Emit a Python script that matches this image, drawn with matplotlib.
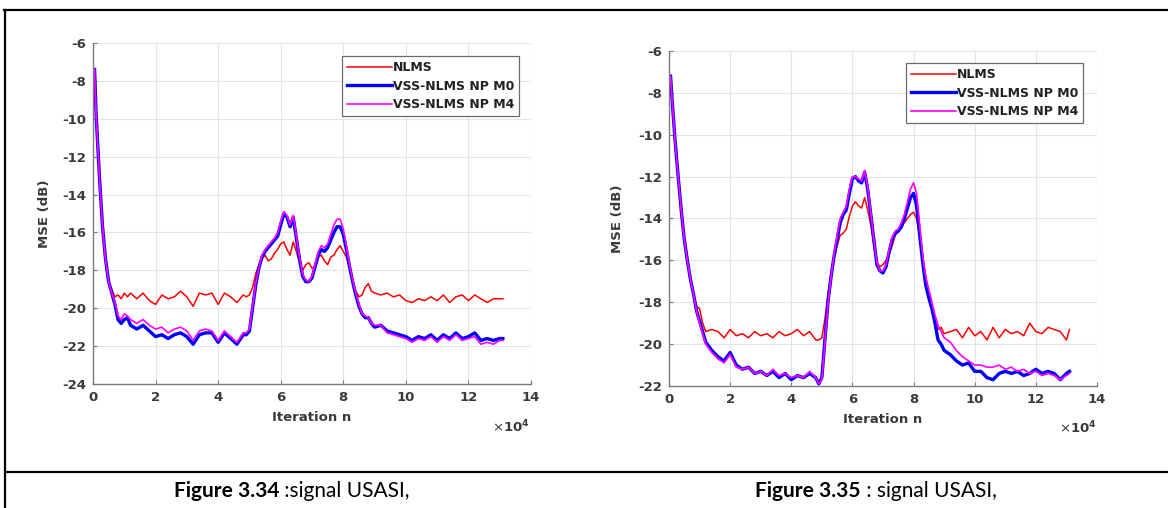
import matplotlib
matplotlib.use('Agg')
import matplotlib.pyplot as plt
import numpy as np
from matplotlib.lines import Line2D

plt.rcParams['axes.unicode_minus'] = False

# iteration axis (x 1e4), shared by the three curves of each panel
n_iter = np.concatenate([
    [0.05], np.arange(0.1, 1.25, 0.1), np.arange(1.4, 4.85, 0.2),
    np.arange(4.9, 9.05, 0.1), np.arange(9.2, 13.05, 0.2), [13.1],
])

# ---- Figure 3.34 ----
nlms_34 = [
    -7.4, -9.4, -12.5, -15.5, -17.4, -18.6, -19.0, -19.4, -19.3, -19.5, -19.2, -19.4, -19.2,
    -19.5, -19.2, -19.6, -19.8, -19.3, -19.5, -19.4, -19.1, -19.4, -19.9, -19.2, -19.3, -19.2,
    -19.8, -19.2, -19.4, -19.7, -19.3,
    -19.4, -19.3, -18.9, -18.2, -17.7, -17.4, -17.2, -17.5, -17.4, -17.1, -16.9, -16.6, -16.5,
    -16.9, -17.2, -16.5, -17.0, -17.6, -18.0, -17.7, -17.6, -17.9, -17.8, -17.3, -17.2, -17.5,
    -17.7, -17.3, -17.2, -16.9, -16.7, -17.0, -17.3, -17.9, -18.6, -19.1, -19.4, -19.3, -18.9,
    -18.7, -19.1, -19.2,
    -19.3, -19.2, -19.4, -19.3, -19.6, -19.7, -19.5, -19.6, -19.4, -19.6, -19.3, -19.7, -19.4,
    -19.3, -19.6, -19.3, -19.5, -19.7, -19.5, -19.5, -19.5,
]
m0_34 = [
    -7.4, -9.8, -12.9, -15.6, -17.4, -18.6, -19.2, -19.8, -20.6, -20.8, -20.6, -20.5, -20.9,
    -21.1, -20.9, -21.2, -21.5, -21.4, -21.6, -21.4, -21.3, -21.5, -21.9, -21.4, -21.3, -21.3,
    -21.8, -21.3, -21.6, -21.9, -21.4,
    -21.4, -21.2, -20.0, -18.8, -17.9, -17.3, -17.0, -16.8, -16.6, -16.4, -16.2, -15.6, -15.0,
    -15.2, -15.7, -15.2, -16.3, -17.4, -18.3, -18.6, -18.6, -18.4, -17.8, -17.2, -16.9, -17.0,
    -16.8, -16.4, -16.0, -15.7, -15.7, -16.1, -16.9, -17.8, -18.6, -19.3, -19.9, -20.3, -20.5,
    -20.5, -20.8, -21.0,
    -20.9, -21.2, -21.3, -21.4, -21.5, -21.7, -21.5, -21.6, -21.4, -21.7, -21.4, -21.6, -21.3,
    -21.6, -21.5, -21.3, -21.7, -21.6, -21.7, -21.6, -21.6,
]
m4_34 = [
    -7.4, -9.8, -12.9, -15.6, -17.4, -18.6, -19.2, -19.7, -20.4, -20.6, -20.3, -20.4, -20.6,
    -20.8, -20.6, -20.9, -21.1, -21.0, -21.3, -21.1, -21.0, -21.2, -21.7, -21.2, -21.1, -21.2,
    -21.7, -21.2, -21.5, -21.8, -21.3,
    -21.3, -21.1, -19.9, -18.7, -17.9, -17.2, -16.9, -16.7, -16.5, -16.3, -16.0, -15.4, -14.9,
    -15.1, -15.6, -15.1, -16.2, -17.3, -18.2, -18.5, -18.6, -18.3, -17.7, -17.0, -16.7, -16.8,
    -16.6, -16.1, -15.6, -15.3, -15.3, -15.8, -16.7, -17.7, -18.5, -19.2, -19.8, -20.3, -20.4,
    -20.5, -20.8, -20.9,
    -20.9, -21.3, -21.4, -21.5, -21.6, -21.8, -21.6, -21.7, -21.5, -21.8, -21.5, -21.7, -21.4,
    -21.7, -21.6, -21.5, -21.9, -21.8, -21.9, -21.7, -21.7,
]

# ---- Figure 3.35 ----
nlms_35 = [
    -7.2, -8.3, -10.3, -12.0, -13.6, -15.0, -16.0, -16.9, -17.6, -18.2, -18.3, -19.0, -19.4,
    -19.3, -19.4, -19.7, -19.3, -19.6, -19.5, -19.7, -19.4, -19.6, -19.5, -19.7, -19.4, -19.6,
    -19.5, -19.3, -19.6, -19.4, -19.8,
    -19.8, -19.7, -18.8, -17.6, -16.6, -15.9, -15.3, -14.8, -14.7, -14.5, -13.9, -13.4, -13.2,
    -13.4, -13.5, -13.0, -13.6, -14.3, -15.3, -16.1, -16.3, -16.2, -16.0, -15.7, -15.3, -14.8,
    -14.6, -14.4, -14.2, -14.0, -13.8, -13.7, -14.0, -14.9, -15.9, -16.8, -17.6, -18.3, -18.9,
    -19.3, -19.2, -19.5,
    -19.4, -19.3, -19.7, -19.2, -19.6, -19.4, -19.8, -19.2, -19.7, -19.3, -19.5, -19.4, -19.6,
    -19.0, -19.4, -19.5, -19.2, -19.3, -19.4, -19.8, -19.3,
]
m0_35 = [
    -7.2, -8.3, -10.3, -12.0, -13.6, -15.0, -16.0, -16.9, -17.6, -18.4, -18.9, -19.4, -19.9,
    -20.3, -20.6, -20.8, -20.4, -21.0, -21.2, -21.1, -21.4, -21.3, -21.5, -21.3, -21.6, -21.4,
    -21.7, -21.5, -21.6, -21.4, -21.6,
    -21.9, -21.6, -19.8, -18.0, -16.8, -15.8, -15.0, -14.2, -13.8, -13.6, -12.8, -12.1, -12.0,
    -12.2, -12.3, -11.8, -12.6, -13.8, -15.0, -16.2, -16.5, -16.6, -16.3, -15.6, -15.0, -14.7,
    -14.6, -14.4, -14.0, -13.5, -13.0, -12.8, -13.4, -14.8, -16.1, -17.2, -17.8, -18.3, -19.0,
    -19.8, -20.0, -20.3,
    -20.5, -20.8, -21.0, -20.9, -21.3, -21.3, -21.6, -21.7, -21.4, -21.3, -21.4, -21.3, -21.5,
    -21.4, -21.2, -21.4, -21.3, -21.4, -21.7, -21.4, -21.3,
]
m4_35 = [
    -7.2, -8.3, -10.3, -12.0, -13.6, -15.0, -16.0, -16.9, -17.6, -18.4, -19.0, -19.5, -20.0,
    -20.4, -20.7, -20.9, -20.5, -21.1, -21.2, -21.1, -21.4, -21.3, -21.5, -21.2, -21.5, -21.4,
    -21.6, -21.5, -21.6, -21.3, -21.6,
    -21.9, -21.7, -19.9, -18.1, -16.8, -15.7, -14.8, -14.0, -13.7, -13.4, -12.6, -12.0, -12.0,
    -12.1, -12.2, -11.7, -12.5, -13.7, -15.0, -16.1, -16.5, -16.5, -16.2, -15.5, -14.9, -14.6,
    -14.5, -14.2, -13.8, -13.2, -12.6, -12.3, -12.8, -14.3, -15.8, -16.8, -17.4, -18.0, -18.6,
    -19.1, -19.4, -19.7,
    -19.9, -20.3, -20.6, -20.8, -21.0, -21.0, -21.1, -21.1, -21.0, -21.2, -21.1, -21.3, -21.2,
    -21.4, -21.3, -21.5, -21.4, -21.5, -21.7, -21.5, -21.4,
]

series_names = ['NLMS', 'VSS-NLMS NP M0', 'VSS-NLMS NP M4']
x_ticks = [0, 2, 4, 6, 8, 10, 12, 14]
caption_34 = ('Figure 3.34', ' :signal USASI,')
caption_35 = ('Figure 3.35', ' : signal USASI,')

GRAY = '#3a3a3a'
W, H = 1168, 508
fig = plt.figure(figsize=(W / 100, H / 100), dpi=100)


def px_rect(x0, y0, x1, y1):
    return [x0 / W, 1 - y1 / H, (x1 - x0) / W, (y1 - y0) / H]


def mse_panel(rect, ylim, curves, leg_anchor, ylab_x):
    ax = fig.add_axes(rect)
    ax.plot(n_iter, curves[0], color='#ff0000', lw=1.1, label=series_names[0])
    ax.plot(n_iter, curves[1], color='#0000ff', lw=2.4, label=series_names[1])
    ax.plot(n_iter, curves[2], color='#ff00ff', lw=1.2, label=series_names[2])
    ax.set_xlim(0, 14)
    ax.set_ylim(*ylim)
    ax.set_xticks(x_ticks)
    ax.set_yticks(np.arange(ylim[0], ylim[1] + 1, 2))
    ax.grid(True, color='#e4e4e4', lw=0.8)
    ax.set_axisbelow(True)
    for s in ('top', 'right'):
        ax.spines[s].set_visible(False)
    for s in ('left', 'bottom'):
        ax.spines[s].set_color('#7a7a7a')
        ax.spines[s].set_linewidth(1.0)
    ax.tick_params(direction='in', length=3, color='#7a7a7a', labelcolor=GRAY,
                   labelsize=9.5, pad=5)
    for lab in ax.get_xticklabels() + ax.get_yticklabels():
        lab.set_fontweight('bold')
    ax.set_xlabel('Iteration n', fontsize=9.5, fontweight='bold', color=GRAY, labelpad=5)
    ax.set_ylabel('MSE (dB)', fontsize=9.5, fontweight='bold', color=GRAY)
    ax.yaxis.set_label_coords(ylab_x, 0.5)
    ax.text(0.955, -0.125, r'$\times\mathbf{10^4}$', transform=ax.transAxes,
            ha='center', va='center', fontsize=9.5, color=GRAY)
    leg = ax.legend(loc='upper right', bbox_to_anchor=leg_anchor, fontsize=9,
                    handlelength=3.6, handletextpad=0.05, borderpad=0.4,
                    labelspacing=0.45, fancybox=False, framealpha=1, borderaxespad=0)
    leg.get_frame().set_edgecolor('#6a6a6a')
    leg.get_frame().set_linewidth(0.9)
    for t in leg.get_texts():
        t.set_fontweight('bold')
        t.set_color('#222222')
    return ax


mse_panel(px_rect(93, 43, 531, 384), (-24, -6), [nlms_34, m0_34, m4_34],
          (0.973, 0.962), -0.095)
mse_panel(px_rect(669, 51, 1097, 386), (-22, -6), [nlms_35, m0_35, m4_35],
          (0.967, 0.964), -0.105)

# table frame around the two panels
for xs, ys in [((4, W), (10, 10)), ((5, 5), (10, H)), ((5, W), (472, 472))]:
    fig.add_artist(Line2D([x / W for x in xs], [1 - y / H for y in ys],
                          color='black', lw=1.6, transform=fig.transFigure))

# captions: bold figure number followed by regular text, centred in each cell
renderer = fig.canvas.get_renderer()
for (bold, rest), cx in [(caption_34, 292), (caption_35, 876)]:
    tb = fig.text(0, 1 - 491 / H, bold, fontsize=15, fontweight='bold',
                  family='Lato', va='center', ha='left')
    tr = fig.text(0, 1 - 491 / H, rest, fontsize=15, family='Lato', va='center', ha='left')
    wb = tb.get_window_extent(renderer).width
    wr = tr.get_window_extent(renderer).width
    x0 = cx - (wb + wr) / 2
    tb.set_x(x0 / W)
    tr.set_x((x0 + wb) / W)

fig.savefig('out.png', dpi=100)
